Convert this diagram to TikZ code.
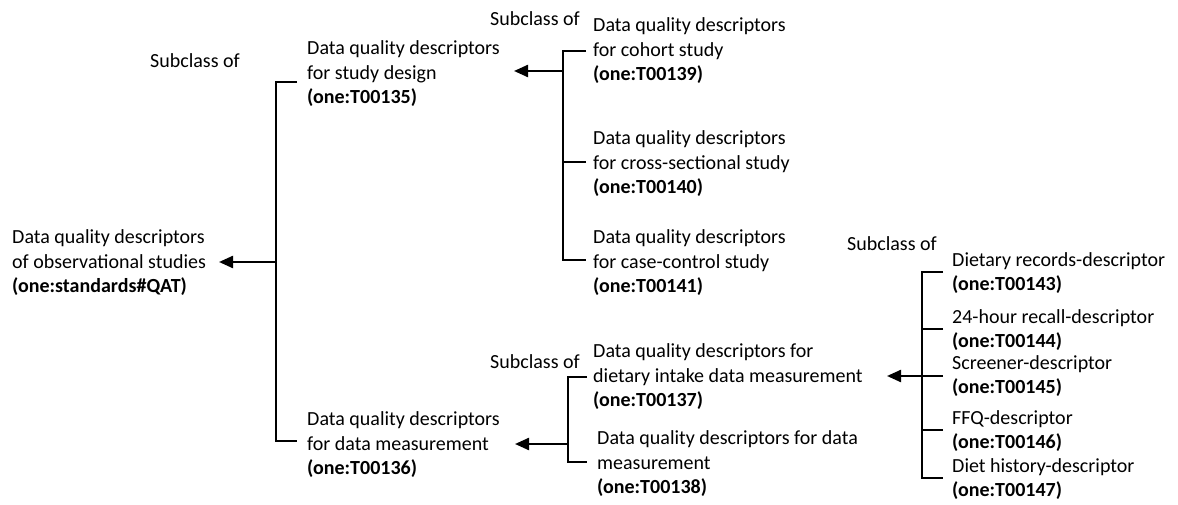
\documentclass[tikz,border=0pt]{standalone}
\usepackage{fontspec}
\setmainfont{Carlito}
\usetikzlibrary{arrows.meta}
\begin{document}
\begin{tikzpicture}[x=1pt,y=-1pt,
  lbl/.style={inner sep=0pt, align=left, anchor=west, font=\fontsize{20}{24.5}\selectfont},
  lbltwo/.style={inner sep=0pt, align=left, anchor=west, font=\fontsize{20}{24}\selectfont},
  sub/.style={inner sep=0pt, anchor=east, font=\fontsize{20}{24}\selectfont},
  br/.style={line width=1.7pt},
  arr/.style={line width=2.3pt, -{Triangle[length=14pt,width=12pt]}}]
\useasboundingbox (0,0) rectangle (1178,505);

% nodes
\node[lbl] (root) at (12,263) {Data quality descriptors\\of observational studies\\\textbf{(one:standards\#QAT)}};
\node[lbl] (A) at (307,74) {Data quality descriptors\\for study design\\\textbf{(one:T00135)}};
\node[lbl] (B) at (307,445) {Data quality descriptors\\for data measurement\\\textbf{(one:T00136)}};
\node[lbl] (C1) at (593,51) {Data quality descriptors\\for cohort study\\\textbf{(one:T00139)}};
\node[lbl] (C2) at (593,164) {Data quality descriptors\\for cross-sectional study\\\textbf{(one:T00140)}};
\node[lbl] (C3) at (593,263) {Data quality descriptors\\for case-control study\\\textbf{(one:T00141)}};
\node[lbl] (D1) at (593,377) {Data quality descriptors for\\dietary intake data measurement\\\textbf{(one:T00137)}};
\node[lbl] (D2) at (597,464) {Data quality descriptors for data\\measurement\\\textbf{(one:T00138)}};
\node[lbltwo] (E1) at (952,273) {Dietary records-descriptor\\\textbf{(one:T00143)}};
\node[lbltwo] (E2) at (952,330) {24-hour recall-descriptor\\\textbf{(one:T00144)}};
\node[lbltwo] (E3) at (952,376) {Screener-descriptor\\\textbf{(one:T00145)}};
\node[lbltwo] (E4) at (952,431) {FFQ-descriptor\\\textbf{(one:T00146)}};
\node[lbltwo] (E5) at (952,479) {Diet history-descriptor\\\textbf{(one:T00147)}};

\node[sub] (S1) at (240,61) {Subclass of};
\node[sub] (S2) at (580,19) {Subclass of};
\node[sub] (S3) at (580,362) {Subclass of};
\node[sub] (S4) at (937,244) {Subclass of};

% junctions and arrow tips
\coordinate (jR) at (276,262); \coordinate (tR) at (219,262);
\coordinate (jA) at (563,71);  \coordinate (tA) at (514,71);
\coordinate (jB) at (568,444); \coordinate (tB) at (515,444);
\coordinate (jD) at (922,376); \coordinate (tD) at (887,376);

% brackets
\draw[br] ([shift={(-10,8)}]A.west) -- ++(-21,0) |- ([shift={(-10,-4)}]B.west);
\draw[br] ([shift={(-7,0)}]C1.west) -- ++(-23,0) |- ([shift={(-7,-3)}]C3.west);
\draw[br] ([shift={(-7,-2)}]C2.west) -- ++(-23,0);
\draw[br] ([shift={(-6,0)}]D1.west) -- ++(-19,0) |- ([shift={(-10,-2)}]D2.west);
\draw[br] ([shift={(-9,-1)}]E1.west) -- ++(-21,0) |- ([shift={(-9,-1)}]E5.west);
\draw[br] ([shift={(-9,-1)}]E2.west) -- ++(-21,0);
\draw[br] ([shift={(-9,0)}]E3.west) -- ++(-21,0);
\draw[br] ([shift={(-9,-1)}]E4.west) -- ++(-21,0);

% arrows
\draw[arr] (jR) -- (tR);
\draw[arr] (jA) -- (tA);
\draw[arr] (jB) -- (tB);
\draw[arr] (jD) -- (tD);
\end{tikzpicture}
\end{document}
